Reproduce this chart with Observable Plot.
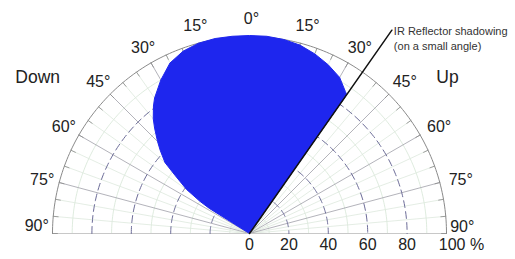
<!DOCTYPE html>
<html>
<head>
<meta charset="utf-8">
<script src="https://cdn.jsdelivr.net/npm/d3@7"></script>
<script src="https://cdn.jsdelivr.net/npm/@observablehq/plot@0.6"></script>
<style>
  html, body { margin: 0; padding: 0; background: #fff; }
  svg { font-family: "Liberation Sans", Arial, sans-serif; }
</style>
</head>
<body>
<div id="chart"></div>
<script>
// Radiation pattern: angle from vertical (negative = Down side, positive = Up side), relative intensity %
const angles    = [-58, -57, -55, -52, -50, -47, -45, -42, -40, -37, -35, -30, -25, -20, -15, -10, -5, 0, 5, 10, 15, 20, 25, 30, 34, 35];
const intensity = [ 24,  30,  39,  48,  56,  62,  66,  72,  76,  81,  84,  90,  95.5, 98.5, 100, 100.5, 100.5, 100.5, 100.5, 100, 99, 97, 94.5, 91.5, 87, 86];

// Shadowing line of the IR reflector
const shadowAngle = 35;
const shadowLength = 126;
const shadowNote = ["IR Reflector shadowing", "(on a small angle)"];

// Grid definitions
const dashedRings = [20, 40, 60, 80];
const faintRings = [10, 30, 50, 70, 90];
const outerRing = 100;
const majorSpokes = [-75, -60, -45, -30, -15, 0, 15, 30, 45, 60, 75];
const minorSpokes = [-85, -80, -70, -65, -55, -50, -40, -35, -25, -20, -10, -5, 5, 10, 20, 25, 35, 40, 50, 55, 65, 70, 80, 85];
const angleTicks = [-75, -60, -45, -30, -15, 0, 15, 30, 45, 60, 75];
const angleLabels = ["75°", "60°", "45°", "30°", "15°", "0°", "15°", "30°", "45°", "60°", "75°"];
const edgeLabels = ["90°", "90°"];
const pctTicks = [0, 20, 40, 60, 80];
const pctLabels = ["0", "20", "40", "60", "80"];
const pctEnd = 100;
const pctEndLabel = "100 %";
const sideLabels = ["Down", "Up"];

const rad = d => d * Math.PI / 180;
const px = (a, r) => r * Math.sin(rad(a));
const py = (a, r) => r * Math.cos(rad(a));

// Blue lobe polygon
const lobe = [{a: angles[0], r: 0}, ...angles.map((a, i) => ({a, r: intensity[i]})), {a: shadowAngle, r: 0}];

// Arc helper for grid rings
const arcSteps = d3.range(-90, 90.5, 1);
const ringPts = rings => rings.flatMap(r => arcSteps.map(a => ({ring: r, a, r})));

const spokePts = list => list.flatMap(a => [{a, r: 0}, {a, r: outerRing}]);
const tickPts = d3.range(-90, 91, 5).flatMap(a => [{a, r: 97.5}, {a, r: outerRing}]);

const labelR = 110;
const angleLabelData = angleTicks.map((a, i) => ({a, text: angleLabels[i]}));

const chart = Plot.plot({
  width: 515,
  height: 259,
  marginLeft: 52,
  marginRight: 69,
  marginTop: 36,
  marginBottom: 26,
  x: {domain: [-100, 100], axis: null},
  y: {domain: [0, 100], axis: null},
  style: {fontFamily: "'Liberation Sans', Arial, sans-serif", background: "#fff"},
  marks: [
    // faint rings
    Plot.line(ringPts(faintRings), {x: d => px(d.a, d.r), y: d => py(d.a, d.r), z: "ring", stroke: "#d6e6d6", strokeWidth: 0.8}),
    // minor spokes
    Plot.line(spokePts(minorSpokes), {x: d => px(d.a, d.r), y: d => py(d.a, d.r), z: "a", stroke: "#dde8dd", strokeWidth: 0.8}),
    // major spokes
    Plot.line(spokePts(majorSpokes), {x: d => px(d.a, d.r), y: d => py(d.a, d.r), z: "a", stroke: "#a0a0a8", strokeWidth: 0.8}),
    // baseline
    Plot.ruleY([0], {x1: -outerRing, x2: outerRing, stroke: "#c8c8c8", strokeWidth: 1.2}),
    // dashed rings
    Plot.line(ringPts(dashedRings), {x: d => px(d.a, d.r), y: d => py(d.a, d.r), z: "ring", stroke: "#6c6c98", strokeWidth: 1, strokeDasharray: "7,4"}),
    // outer ring
    Plot.line(ringPts([outerRing]), {x: d => px(d.a, d.r), y: d => py(d.a, d.r), z: "ring", stroke: "#8a8a8a", strokeWidth: 1}),
    // ticks on outer ring
    Plot.line(tickPts, {x: d => px(d.a, d.r), y: d => py(d.a, d.r), z: "a", stroke: "#8a8a8a", strokeWidth: 0.8}),
    // lobe
    Plot.line(lobe, {x: d => px(d.a, d.r), y: d => py(d.a, d.r), fill: "#1e26ee", stroke: "#1e26ee", strokeWidth: 1, curve: "linear"}),
    // shadowing line
    Plot.line([{a: shadowAngle, r: 0}, {a: shadowAngle, r: shadowLength}], {x: d => px(d.a, d.r), y: d => py(d.a, d.r), stroke: "#111", strokeWidth: 1.5}),
    // shadow note
    Plot.text(shadowNote, {x: px(shadowAngle, shadowLength), y: (d, i) => py(shadowAngle, shadowLength) - 0.5 - i * 7.7, text: d => d, textAnchor: "start", dx: 2, fontSize: 11, fill: "#333"}),
    // angle labels
    Plot.text(angleLabelData, {
      x: d => px(d.a, labelR),
      y: d => py(d.a, labelR),
      text: "text", fontSize: 16, fill: "#222", dx: 2, dy: 2
    }),
    // 90° labels at the ends of the baseline
    Plot.text(edgeLabels, {x: (d, i) => i === 0 ? -108 : 108, y: (d, i) => i === 0 ? 4 : 3.2, text: d => d, fontSize: 16, fill: "#222"}),
    // percent labels
    Plot.text(pctTicks.map((v, i) => ({v, text: pctLabels[i]})), {
      x: "v", y: 0, text: "text", fontSize: 16, fill: "#222", dy: 11
    }),
    Plot.text([pctEndLabel], {x: pctEnd, y: 0, text: d => d, fontSize: 16, fill: "#222", dy: 11, dx: 15}),
    // side labels
    Plot.text(sideLabels, {x: (d, i) => i === 0 ? -107.5 : 100.5, y: 79, text: d => d, fontSize: 17.5, fill: "#222"})
  ]
});
document.getElementById("chart").appendChild(chart);
</script>
</body>
</html>
